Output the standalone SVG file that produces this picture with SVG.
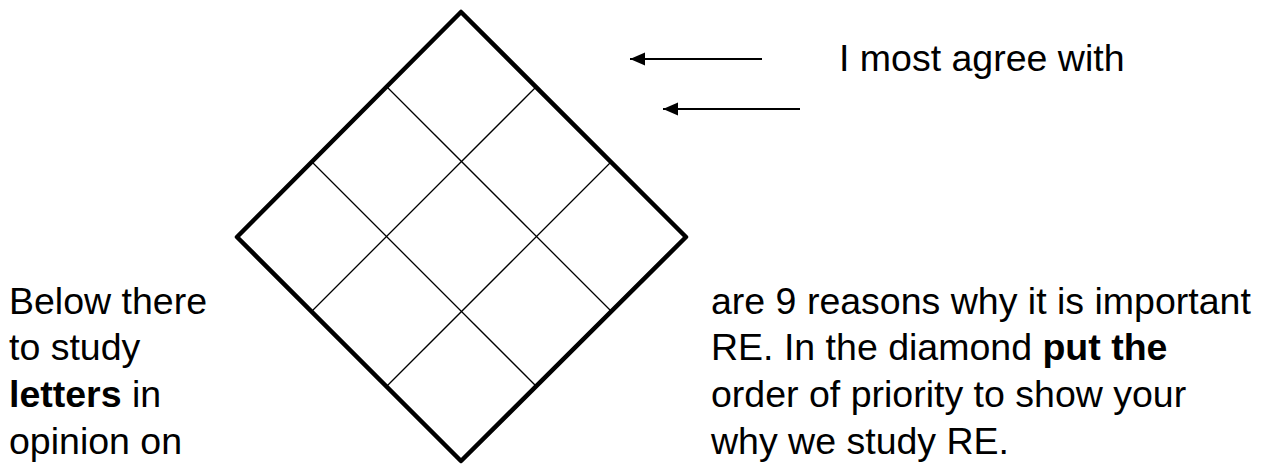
<svg xmlns="http://www.w3.org/2000/svg" width="1262" height="464" viewBox="0 0 1262 464">
<style>
.t{font-family:"Liberation Sans",Arial,sans-serif;font-size:37.5px;fill:#000}
.b{font-weight:bold}
.edge{fill:none;stroke:#000;stroke-width:4.5;stroke-linejoin:round}
.grid{stroke:#000;stroke-width:1.3;fill:none}
.arr{stroke:#000;stroke-width:2;fill:none}
</style>
<defs>
<marker id="ah" markerWidth="16" markerHeight="14" refX="15" refY="7" orient="auto" markerUnits="userSpaceOnUse">
<path d="M0,0.5 L15,7 L0,13.5 Z" fill="#000"/>
</marker>
</defs>
<rect width="1262" height="464" fill="#fff"/>
<g id="diamond">
<line class="grid" x1="387" y1="87" x2="612" y2="312"/>
<line class="grid" x1="312" y1="162" x2="537" y2="387"/>
<line class="grid" x1="536" y1="87" x2="311" y2="312"/>
<line class="grid" x1="611" y1="162" x2="386" y2="387"/>
<path class="edge" d="M461,12 L686,237 L461,461 L237,237 Z"/>
</g>
<g id="connectors">
<line class="arr" x1="762" y1="59" x2="630" y2="59" marker-end="url(#ah)"/>
<line class="arr" x1="800" y1="109" x2="663" y2="109" marker-end="url(#ah)"/>
</g>
<g id="label-top">
<text class="t" x="839" y="71">I most agree with</text>
</g>
<g id="text-left">
<text class="t" x="9" y="314">Below there</text>
<text class="t" x="9" y="360">to study</text>
<text class="t" x="9" y="407"><tspan class="b">letters</tspan> in</text>
<text class="t" x="9" y="454">opinion on</text>
</g>
<g id="text-right">
<text class="t" x="711" y="314">are 9 reasons why it is important</text>
<text class="t" x="711" y="360">RE. In the diamond <tspan class="b">put the</tspan></text>
<text class="t" x="711" y="407">order of priority to show your</text>
<text class="t" x="711" y="454">why we study RE.</text>
</g>
</svg>
